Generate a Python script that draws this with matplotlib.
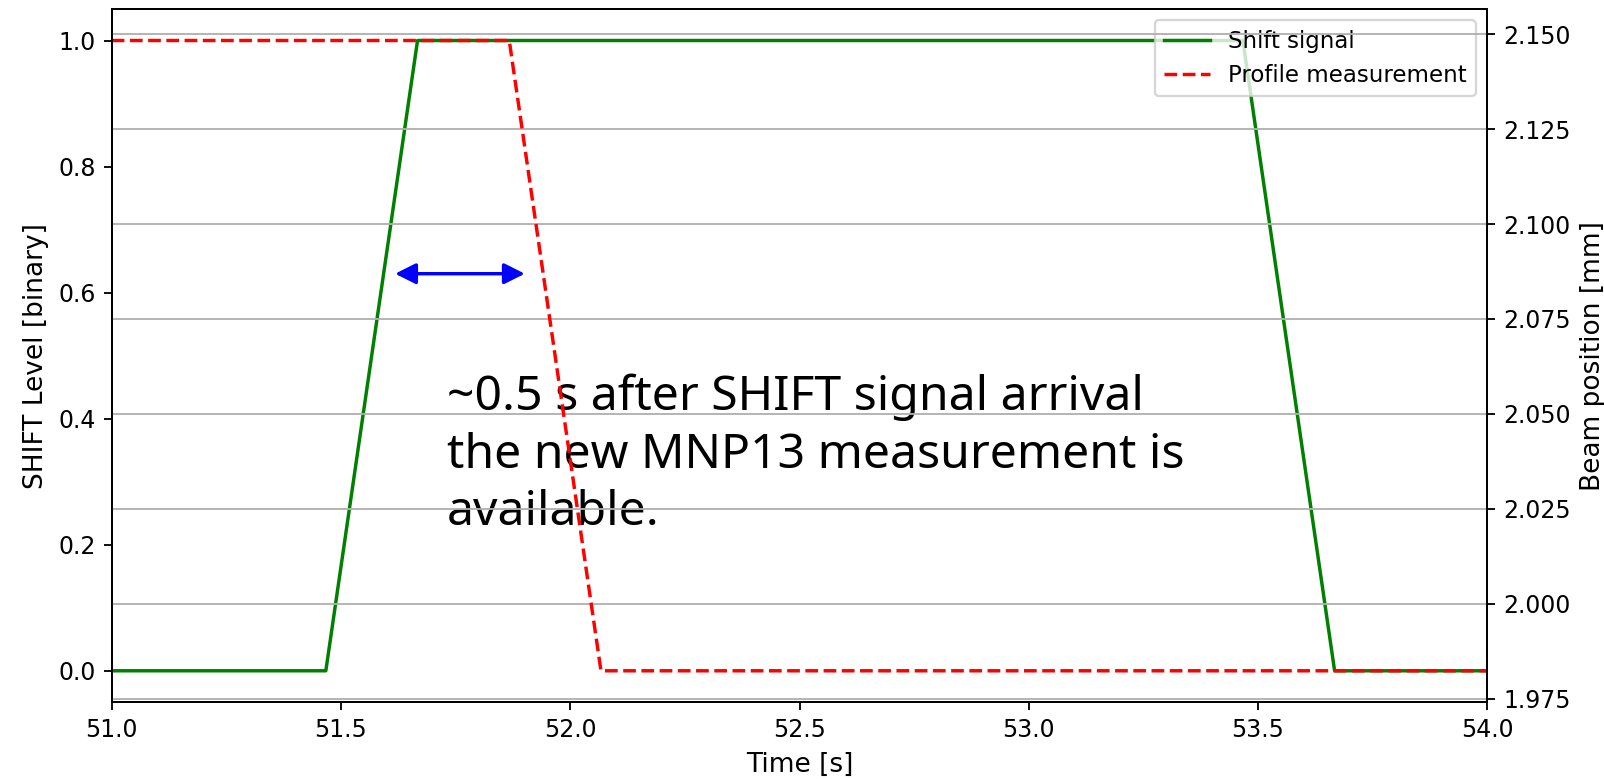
import matplotlib
matplotlib.use("Agg")
import matplotlib.pyplot as plt

# ---- data ----
time_shift = [51.0, 51.467, 51.667, 53.467, 53.667, 54.0]
shift_level = [0, 0, 1, 1, 0, 0]

time_profile = [51.0, 51.867, 52.067, 54.0]
beam_position = [2.1483, 2.1483, 1.9824, 1.9824]

arrow_start = (51.618, 0.63)
arrow_end = (51.901, 0.63)
note_pos = (51.731, 0.472)
note_text = ("~0.5 s after SHIFT signal arrival\n"
             "the new MNP13 measurement is\n"
             "available.")

DPI = 165
fig = plt.figure(figsize=(1604 / DPI, 779 / DPI), dpi=DPI)
ax = fig.add_axes([111.7 / 1604, 1 - 702.3 / 779, (1487.3 - 111.7) / 1604, (702.3 - 9) / 779])

l1, = ax.plot(time_shift, shift_level, color="green", lw=1.5, label="Shift signal")
ax.set_xlim(51.0, 54.0)
ax.set_xlabel("Time [s]", fontsize=11.5)
ax.set_ylabel("SHIFT Level [binary]", fontsize=11.5)
ax.tick_params(labelsize=10.3)

ax2 = ax.twinx()
l2, = ax2.plot(time_profile, beam_position, color="red", ls="--", lw=1.5,
               label="Profile measurement")
ax2.set_ylabel("Beam position [mm]", fontsize=11.5)
ax2.grid(True, axis="y")
ax2.tick_params(labelsize=10.3)

ax.legend([l1, l2], [l1.get_label(), l2.get_label()], loc="upper right")

ax.annotate("", xy=arrow_start, xytext=arrow_end, xycoords="data",
            arrowprops=dict(arrowstyle="<|-|>", color="blue", lw=1.5,
                            mutation_scale=19, shrinkA=0, shrinkB=0),
            zorder=5)

ax.text(note_pos[0], note_pos[1], note_text, fontsize=21, family="Noto Sans",
        va="top", ha="left", linespacing=1.3, color="black", zorder=6)

fig.savefig("out.png", dpi=DPI)
